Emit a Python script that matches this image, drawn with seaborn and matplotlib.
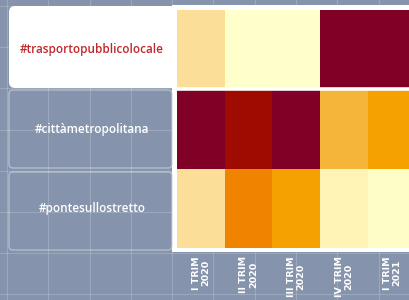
import matplotlib
matplotlib.use("Agg")
import matplotlib.pyplot as plt
import matplotlib.transforms as mtransforms
from matplotlib.colors import LinearSegmentedColormap
from matplotlib.patches import FancyBboxPatch, Rectangle
import seaborn as sns
import numpy as np
import pandas as pd

# data (relative intensity, 0-100)
hashtags = ["#trasportopubblicolocale", "#cittàmetropolitana", "#pontesullostretto"]
quarters = ["I TRIM\n2020", "II TRIM\n2020", "III TRIM\n2020", "IV TRIM\n2020", "I TRIM\n2021"]
trasporto = [22, 0, 0, 100, 100]
citta = [100, 88, 100, 40, 50]
ponte = [22, 60, 50, 10, 2]

df = pd.DataFrame([trasporto, citta, ponte], index=hashtags, columns=quarters)

# yellow -> orange -> dark red scale
cmap = LinearSegmentedColormap.from_list("heat", [
    (0.00, "#ffffcc"), (0.10, "#fff3b5"), (0.22, "#fbdf98"), (0.40, "#f5b53a"),
    (0.50, "#f5a200"), (0.60, "#f08400"), (0.88, "#a00a00"), (1.00, "#800026")])

bg_col = "#8594ac"
fig = plt.figure(figsize=(4.1, 3.0), dpi=100, facecolor=bg_col)

# background layer in pixel units
bg = fig.add_axes([0, 0, 1, 1])
bg.set_xlim(0, 410)
bg.set_ylim(300, 0)
bg.axis("off")
for x in np.arange(7, 410, 41.3):
    bg.axvline(x, color="white", alpha=0.18, lw=0.8)
for y in np.arange(6, 300, 41.2):
    bg.axhline(y, color="white", alpha=0.18, lw=0.8)

# white panel behind heatmap and first label box
bg.add_patch(Rectangle((172, 5), 250, 247, facecolor="white", edgecolor="none"))
bg.add_patch(FancyBboxPatch((9, 6), 170, 82, boxstyle="round,pad=0,rounding_size=6",
                            facecolor="white", edgecolor="none"))
for y0, y1 in [(90, 168), (172, 250)]:
    bg.add_patch(FancyBboxPatch((9, y0), 163, y1 - y0, boxstyle="round,pad=0,rounding_size=4",
                                facecolor="none", edgecolor="#c3ccd9", lw=0.9, alpha=0.8))

# heatmap
left, right, top, bottom = 177, 415.75, 10, 248
ax = fig.add_axes([left / 410, 1 - bottom / 300, (right - left) / 410, (bottom - top) / 300])
sns.heatmap(df, ax=ax, cmap=cmap, vmin=0, vmax=100, cbar=False,
            xticklabels=quarters, yticklabels=False)
ax.axhline(1, color="white", lw=2.6)
ax.tick_params(axis="x", length=0, pad=6)
for t in ax.get_xticklabels():
    t.set_rotation(90)
    t.set_color("white")
    t.set_fontsize(6.8)
    t.set_fontweight("bold")
    t.set_ha("center")
    t.set_va("top")
    t.set_linespacing(1.1)

# row labels inside their boxes
trans = mtransforms.blended_transform_factory(bg.transData, ax.transData)
for i, tag in enumerate(hashtags):
    bg.text(92, i + 0.5, tag, transform=trans, ha="center", va="center",
            fontsize=8.5, fontweight="semibold", family="Open Sans",
            color="#c0282d" if i == 0 else "white")

fig.savefig("out.png", dpi=100, facecolor=fig.get_facecolor())
